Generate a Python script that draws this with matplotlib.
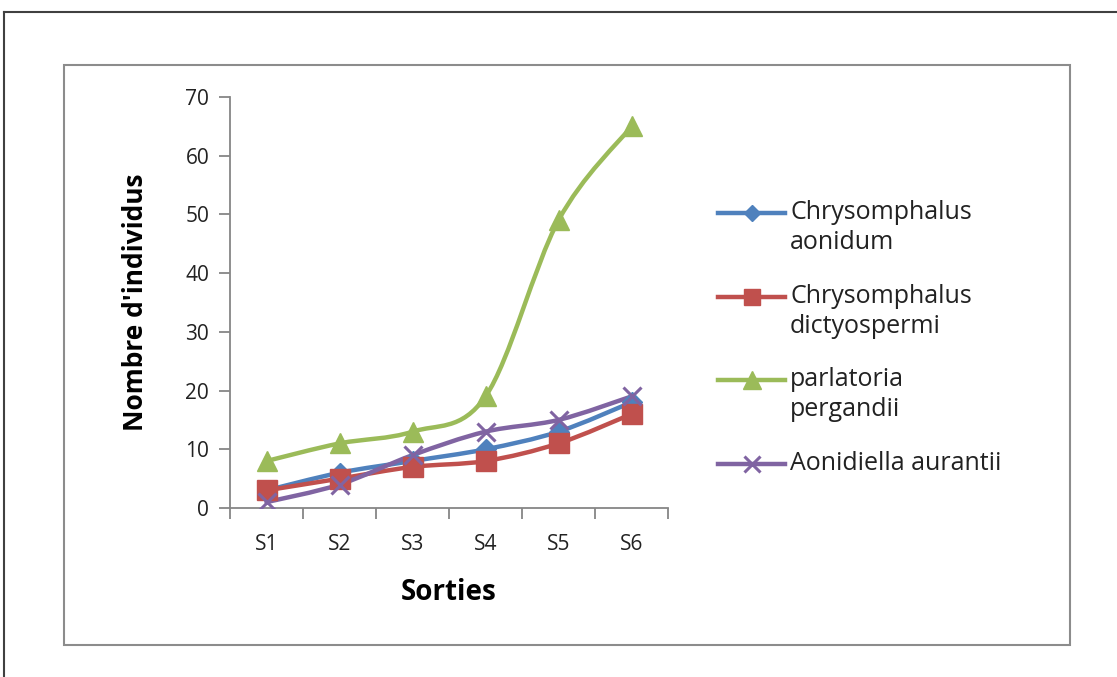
import matplotlib
matplotlib.use('Agg')
import matplotlib.pyplot as plt
from matplotlib.path import Path
from matplotlib.patches import PathPatch
from matplotlib.lines import Line2D
import numpy as np

plt.rcParams['font.family'] = ['Open Sans', 'DejaVu Sans']

sorties = ['S1', 'S2', 'S3', 'S4', 'S5', 'S6']
aonidum = [3, 6, 8, 10, 13, 18]
dictyospermi = [3, 5, 7, 8, 11, 16]
pergandii = [8, 11, 13, 19, 49, 65]
aurantii = [1, 4, 9, 13, 15, 19]

series = [
    ('Chrysomphalus\naonidum', aonidum, '#4F81BD', 'D', 10),
    ('Chrysomphalus\ndictyospermi', dictyospermi, '#C0504D', 's', 14),
    ('parlatoria\npergandii', pergandii, '#9BBB59', '^', 15),
    ('Aonidiella aurantii', aurantii, '#8064A2', 'x', 13),
]


# courbe lissee facon Excel (bezier, tension 1/6)
def courbeLisse(xs, ys):
    pts = np.column_stack([xs, ys]).astype(float)
    verts = [pts[0]]
    codes = [Path.MOVETO]
    n = len(pts)
    for i in range(n - 1):
        p0 = pts[i - 1] if i > 0 else pts[i]
        p1 = pts[i]
        p2 = pts[i + 1]
        p3 = pts[i + 2] if i + 2 < n else pts[i + 1]
        c1 = p1 + (p2 - p0) / 6.0
        c2 = p2 - (p3 - p1) / 6.0
        verts += [c1, c2, p2]
        codes += [Path.CURVE4] * 3
    return Path(verts, codes)


fig = plt.figure(figsize=(11.17, 6.77), dpi=100)
W, H = 1117, 677

# cadres
fig.add_artist(Line2D([4 / W, 4 / W], [0, 1 - 12 / H], color='#404040', lw=1.5))
fig.add_artist(Line2D([4 / W, 1], [1 - 12 / H, 1 - 12 / H], color='#404040', lw=1.5))
fig.add_artist(plt.Rectangle((64 / W, 1 - 645 / H), (1070 - 64) / W, (645 - 65) / H,
                             fill=False, edgecolor='#8C8C8C', lw=1.5))

ax = fig.add_axes([230 / W, 1 - 508 / H, (668 - 230) / W, (508 - 97) / H])
x = np.arange(len(sorties))

for nom, vals, couleur, mk, ms in series:
    patch = PathPatch(courbeLisse(x, vals), fill=False, edgecolor=couleur, lw=3.2,
                      capstyle='round', joinstyle='round', zorder=2)
    ax.add_patch(patch)
    if mk == 'x':
        ax.plot(x, vals, linestyle='none', marker=mk, ms=ms, mew=2.2, color=couleur, zorder=3)
    else:
        ax.plot(x, vals, linestyle='none', marker=mk, ms=ms, color=couleur, zorder=3)

ax.set_xlim(-0.5, 5.5)
ax.set_ylim(0, 70)
ax.set_yticks(range(0, 71, 10))
ax.set_xticks(x)
ax.set_xticklabels(sorties)
ax.set_xticks(np.arange(-0.5, 6, 1), minor=True)
ax.tick_params(axis='x', which='major', length=0, pad=19, labelsize=15, labelcolor='#222222')
ax.tick_params(axis='x', which='minor', length=8, width=1.3, color='#868686', direction='out')
ax.tick_params(axis='y', length=8, width=1.3, color='#868686', direction='out', pad=7,
               labelsize=15, labelcolor='#222222')
for s in ['top', 'right']:
    ax.spines[s].set_visible(False)
for s in ['left', 'bottom']:
    ax.spines[s].set_color('#868686')
    ax.spines[s].set_linewidth(1.3)

ax.set_xlabel('Sorties', fontsize=20, fontweight='bold', labelpad=16)
ax.set_ylabel("Nombre d'individus", fontsize=19, fontweight='bold', labelpad=26)

# legende dessinee a la main (symbole aligne sur la premiere ligne)
legendeY = [213, 297, 380, 464]
for (nom, vals, couleur, mk, ms), yl in zip(series, legendeY):
    yf = 1 - yl / H
    fig.add_artist(Line2D([718 / W, 785 / W], [yf, yf], color=couleur, lw=3.2))
    fig.add_artist(Line2D([751.5 / W], [yf], color=couleur, marker=mk, ms=ms * 0.85,
                          mew=2.2 if mk == 'x' else 1, linestyle='none'))
    fig.text(790 / W, 1 - (yl - 13) / H, nom, fontsize=18, va='top', ha='left',
             linespacing=1.25, color='#222222')

fig.savefig('out.png', dpi=100)
